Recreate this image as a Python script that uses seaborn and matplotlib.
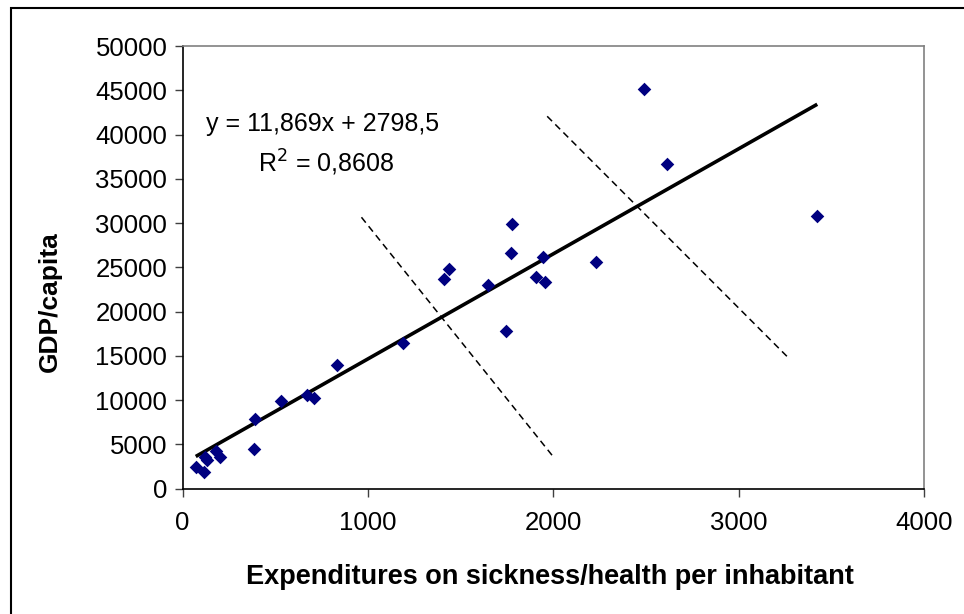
import matplotlib
matplotlib.use("Agg")
import matplotlib.pyplot as plt
import seaborn as sns
import numpy as np
import pandas as pd
from matplotlib.patches import Rectangle

# expenditures per inhabitant vs GDP per capita
expenditure = [71, 117, 121, 130, 179, 202, 385, 391, 531, 670, 709, 833,
               1191, 1412, 1439, 1649, 1743, 1772, 1779, 1907, 1943, 1957,
               2229, 2488, 2615, 3424]
gdp = [2420, 1890, 3600, 3200, 4260, 3550, 4520, 7830, 9910, 10590, 10280, 13940,
       16430, 23700, 24830, 22980, 17820, 26600, 29880, 23890, 26220, 23320,
       25650, 45130, 36690, 30820]

# trendline from the equation shown on the chart
slope = 11.869
intercept = 2798.5
r_squared = "0,8608"

# two dashed guide lines (start/end points in data units)
guide1_x = [965, 1994]
guide1_y = [30670, 3760]
guide2_x = [1967, 3267]
guide2_y = [42080, 14820]

xticks = [0, 1000, 2000, 3000, 4000]
yticks = list(range(0, 50001, 5000))

sns.set_style("white")
plt.rcParams['font.family'] = ['Liberation Sans', 'DejaVu Sans']
plt.rcParams['text.color'] = 'black'
plt.rcParams['axes.labelcolor'] = 'black'

W, H = 964, 614
fig = plt.figure(figsize=(W / 100, H / 100), dpi=100)
ax = fig.add_axes([182.6 / W, 1 - 488.7 / H, (924 - 182.6) / W, (488.7 - 46.2) / H])

df = pd.DataFrame({'exp': expenditure, 'gdp': gdp})
sns.scatterplot(data=df, x='exp', y='gdp', ax=ax, marker='D', color='#000080',
                s=48, edgecolor='#000080', linewidth=0, zorder=3)

tx = np.array([min(expenditure), max(expenditure)])
ax.plot(tx, slope * tx + intercept, color='black', lw=2.6, zorder=2, solid_capstyle='butt')
ax.plot(guide1_x, guide1_y, color='black', lw=1.1, ls=(0, (4.5, 3)))
ax.plot(guide2_x, guide2_y, color='black', lw=1.1, ls=(0, (4.5, 3)))

ax.set_xlim(0, 4000)
ax.set_ylim(0, 50000)
ax.set_xticks(xticks)
ax.set_yticks(yticks)
ax.tick_params(axis='both', labelsize=18.5, length=6, width=1, color='#404040',
               labelcolor='black', direction='out', left=True, bottom=True)
ax.tick_params(axis='y', pad=5)
ax.tick_params(axis='x', pad=10)

for side in ['left', 'bottom']:
    ax.spines[side].set_color('black')
    ax.spines[side].set_linewidth(1.2)
for side in ['top', 'right']:
    ax.spines[side].set_color('#808080')
    ax.spines[side].set_linewidth(1.2)

ax.set_xlabel('Expenditures on sickness/health per inhabitant', fontsize=19.5,
              fontweight='bold')
ax.set_ylabel('GDP/capita', fontsize=19, fontweight='bold')
ax.xaxis.set_label_coords(550 / W, 1 - 577 / H, transform=fig.transFigure)
ax.yaxis.set_label_coords(50 / W, 1 - 302 / H, transform=fig.transFigure)
ax.xaxis.label.set_va('center')
ax.yaxis.label.set_va('center')

fig.text(206 / W, 1 - 124 / H, f"y = {slope:.3f}x + {intercept:.1f}".replace('.', ','),
         fontsize=18, va='center', ha='left')
fig.text(258 / W, 1 - 163 / H, r"R$^2$ = " + r_squared, fontsize=18,
         va='center', ha='left')

# outer chart frame
fig.patches.append(Rectangle((10.5 / W, -0.05), 1.2, 1.05 - 7.5 / H,
                             transform=fig.transFigure, fill=False,
                             edgecolor='black', lw=1.5))

fig.savefig('out.png', dpi=100)
